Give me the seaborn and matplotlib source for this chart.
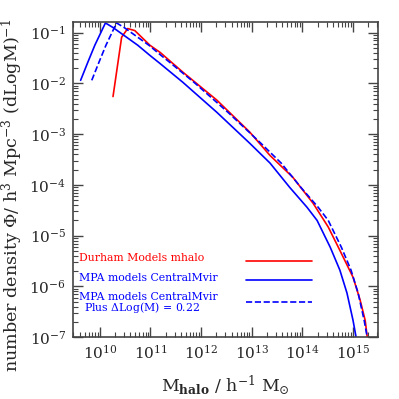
import numpy as np
import pandas as pd
import matplotlib
matplotlib.use("Agg")
import matplotlib.pyplot as plt
import seaborn as sns

# Values (log10 of halo mass, log10 of number density)
durham_logm = [10.26, 10.43, 10.55, 10.69, 10.99, 11.19, 11.64, 12.31, 12.96, 13.36,
               13.81, 14.21, 14.51, 14.74, 15.00, 15.14, 15.24, 15.28, 15.33]
durham_logphi = [-2.26, -1.09, -0.92, -0.96, -1.25, -1.39, -1.78, -2.33, -2.96, -3.42,
                 -3.85, -4.36, -4.83, -5.29, -5.82, -6.27, -6.67, -7.00, -7.30]

mpa_logm = [9.62, 9.76, 9.90, 10.11, 10.26, 10.75, 10.99, 11.19, 11.64, 12.31, 12.96,
            13.36, 13.75, 14.09, 14.29, 14.55, 14.74, 14.88, 15.00, 15.06, 15.10]
mpa_logphi = [-1.94, -1.59, -1.25, -0.81, -0.90, -1.25, -1.45, -1.61, -1.98, -2.57, -3.18,
              -3.57, -4.05, -4.44, -4.70, -5.23, -5.68, -6.13, -6.67, -7.00, -7.30]

# same curve after the +0.22 dex mass shift
mpa_shift_logm = [9.84, 9.98, 10.12, 10.33, 10.48, 10.97, 11.21, 11.41, 11.86, 12.53, 13.18,
                  13.58, 13.97, 14.31, 14.51, 14.77, 14.96, 15.10, 15.22, 15.28, 15.32]
mpa_shift_logphi = mpa_logphi

# tick decades shown on the axes
x_decades = [10, 11, 12, 13, 14, 15]
y_decades = [-7, -6, -5, -4, -3, -2, -1]

labels = ["Durham Models mhalo", "MPA models CentralMvir",
          "MPA models CentralMvir"]
label_extra = "Plus $\\Delta$Log(M) = 0.22"

sns.set_style("ticks")
plt.rcParams["font.family"] = ["DejaVu Serif"]
plt.rcParams["mathtext.fontset"] = "dejavuserif"

fig = plt.figure(figsize=(3.99, 3.99), dpi=100)
ax = fig.add_axes([0.183, 0.155, 0.764, 0.79])

series = [
    (durham_logm, durham_logphi, "red", "-"),
    (mpa_logm, mpa_logphi, "blue", "-"),
    (mpa_shift_logm, mpa_shift_logphi, "blue", "--"),
]
for logm, logphi, color, ls in series:
    df = pd.DataFrame({"m": 10.0 ** np.array(logm), "phi": 10.0 ** np.array(logphi)})
    sns.lineplot(data=df, x="m", y="phi", color=color, linestyle=ls, lw=1.2,
                 sort=False, estimator=None, ax=ax)

ax.set_xscale("log")
ax.set_yscale("log")
ax.set_xlim(10 ** 9.47, 10 ** 15.49)
ax.set_ylim(1e-7, 10 ** -0.79)

# legend drawn as text + line samples inside the axes
text_y = [0.251, 0.187, 0.127]
line_y = [0.241, 0.181, 0.111]
for (logm, logphi, color, ls), lab, ty, ly in zip(series, labels, text_y, line_y):
    ax.text(0.02, ty, lab, transform=ax.transAxes, color=color, fontsize=7.8,
            va="center", ha="left")
    ax.plot([0.567, 0.783], [ly, ly], transform=ax.transAxes,
            color=color, linestyle=ls, lw=1.2)
ax.text(0.037, 0.095, label_extra, transform=ax.transAxes, color="blue", fontsize=7.8,
        va="center", ha="left")

ax.tick_params(which="both", direction="in", top=True, right=True, labelsize=11,
               color="#444444")
ax.tick_params(which="major", length=7, width=1, pad=5)
ax.tick_params(which="minor", length=3.5, width=0.8)
ax.set_xticks([10.0 ** d for d in x_decades])
ax.set_xticklabels(["$10^{%d}$" % d for d in x_decades])
ax.set_yticks([10.0 ** d for d in y_decades])
ax.set_yticklabels(["$10^{%d}$" % d for d in y_decades])
ax.xaxis.set_minor_locator(matplotlib.ticker.LogLocator(base=10, subs=np.arange(2, 10), numticks=20))
ax.yaxis.set_minor_locator(matplotlib.ticker.LogLocator(base=10, subs=np.arange(2, 10), numticks=20))
ax.xaxis.set_minor_formatter(matplotlib.ticker.NullFormatter())
ax.yaxis.set_minor_formatter(matplotlib.ticker.NullFormatter())
for s in ax.spines.values():
    s.set_color("#444444")
    s.set_linewidth(1.2)

ax.set_xlabel("M$_{\\mathbf{halo}}$ / h$^{-1}$ M$_{\\odot}$", fontsize=12.5, labelpad=8)
ax.set_ylabel("number density $\\Phi$/ h$^3$ Mpc$^{-3}$ (dLogM)$^{-1}$", fontsize=12.6)
ax.yaxis.set_label_coords(-0.158, 0.45)

fig.savefig("out.png", dpi=100)
